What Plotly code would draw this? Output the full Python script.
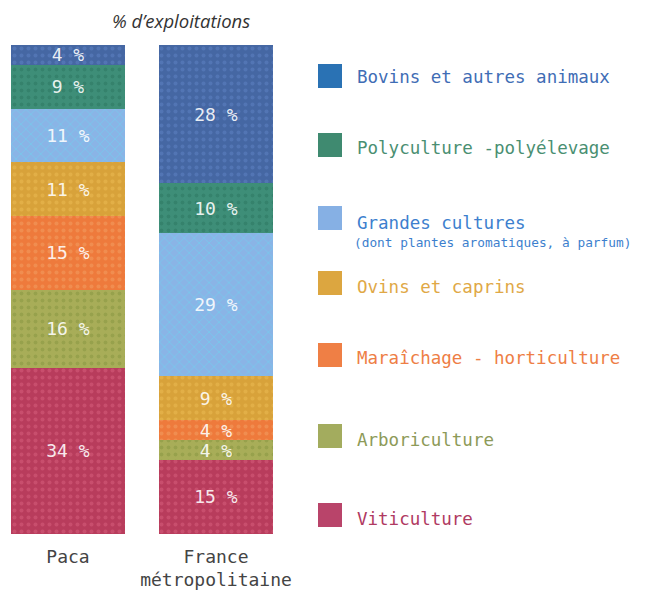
import plotly.graph_objects as go

# ---- data ----
regions = ["Paca", "France<br>métropolitaine"]
categories = [
    "Viticulture",
    "Arboriculture",
    "Maraîchage - horticulture",
    "Ovins et caprins",
    "Grandes cultures",
    "Polyculture -polyélevage",
    "Bovins et autres animaux",
]
paca_values = [34, 16, 15, 11, 11, 9, 4]
france_values = [15, 4, 4, 9, 29, 10, 28]
legend_sub = {"Grandes cultures": "(dont plantes aromatiques, à parfum)"}

bar_colors = ["#b83c5c", "#a8ad58", "#ee7a3c", "#d8a23a", "#8ab4e6", "#3e8e78", "#4567a3"]
pattern_fg = ["#d25a78", "#8c9a45", "#f29a5e", "#e9b850", "#6fd0ef", "#2f7a64", "#5a7ec0"]
pattern_shape = [".", ".", ".", ".", "x", ".", "."]
legend_sq_colors = ["#b9446a", "#a3ac5e", "#ef7f45", "#dca640", "#86b0e4", "#3f8a70", "#2a72b4"]
legend_txt_colors = ["#b03a62", "#8d9a58", "#ee7e45", "#e0a846", "#3d7fce", "#4a8f72", "#3f6db5"]

# ---- layout geometry (reference-window pixels; page body adds an 8px offset) ----
OFF = 8
W, H = 646 - OFF, 592 - OFF
PL, PR, PT, PB = 11, 273, 45, 534
MONO = "DejaVu Sans Mono"


def px_x(px):
    return (px - PL) / (PR - PL)


def px_y(py):
    return (PB - py) / (PB - PT)


fig = go.Figure()
for i, cat in enumerate(categories):
    vals = [paca_values[i], france_values[i]]
    fig.add_trace(go.Bar(
        x=regions,
        y=vals,
        name=cat,
        text=[f"{v} %" for v in vals],
        textposition="inside",
        insidetextanchor="middle",
        textangle=0,
        constraintext="none",
        textfont=dict(family=MONO, size=18, color="rgba(255,255,255,0.9)"),
        marker=dict(
            color=bar_colors[i],
            line=dict(width=0),
            pattern=dict(shape=pattern_shape[i], fgcolor=pattern_fg[i],
                         size=7, solidity=0.25, fgopacity=0.6),
        ),
        width=0.77,
        showlegend=False,
        hoverinfo="skip",
    ))

# manual legend (top item first)
legend_sq_centers = [515, 436, 355, 283, 218, 145, 76]
legend_txt_centers = [519, 440, 358, 287, 223, 148, 77]
shapes = []
annotations = []
for i, cat in enumerate(categories):
    cy = legend_sq_centers[i]
    shapes.append(dict(
        type="rect", xref="paper", yref="paper",
        x0=px_x(318), x1=px_x(342), y0=px_y(cy + 12), y1=px_y(cy - 12),
        fillcolor=legend_sq_colors[i], line=dict(width=0),
    ))
    annotations.append(dict(
        xref="paper", yref="paper", x=px_x(355), y=px_y(legend_txt_centers[i]),
        xanchor="left", yanchor="middle", showarrow=False,
        text=cat, font=dict(family=MONO, size=17.5, color=legend_txt_colors[i]),
    ))
    if cat in legend_sub:
        annotations.append(dict(
            xref="paper", yref="paper", x=px_x(352), y=px_y(242),
            xanchor="left", yanchor="middle", showarrow=False,
            text=legend_sub[cat],
            font=dict(family=MONO, size=12.8, color=legend_txt_colors[i]),
        ))

annotations.append(dict(
    xref="paper", yref="paper", x=px_x(181), y=px_y(20),
    xanchor="center", yanchor="middle", showarrow=False,
    text="<i>% d’exploitations</i>",
    font=dict(family="Open Sans", size=18.5, color="#333333"),
))

fig.update_layout(
    width=W, height=H,
    margin=dict(l=PL - OFF, r=646 - PR, t=PT - OFF, b=592 - PB, pad=0),
    barmode="stack",
    barnorm="percent",
    paper_bgcolor="white",
    plot_bgcolor="white",
    showlegend=False,
    uniformtext=dict(minsize=18, mode="show"),
    xaxis=dict(
        range=[-0.385, 1.385], showgrid=False, zeroline=False, showline=False,
        ticks="outside", ticklen=6, tickcolor="rgba(0,0,0,0)",
        tickfont=dict(family=MONO, size=18, color="#444444"),
        automargin=False, fixedrange=True,
    ),
    yaxis=dict(range=[0, 100], visible=False, automargin=False, fixedrange=True),
    shapes=shapes,
    annotations=annotations,
)

fig.write_html("out.html")
